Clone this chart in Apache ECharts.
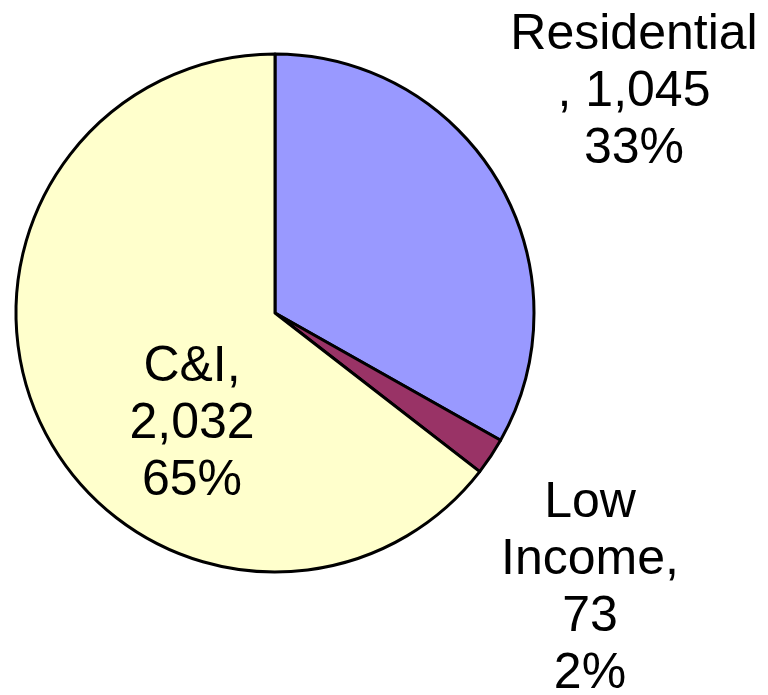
<!DOCTYPE html>
<html>
<head>
<meta charset="utf-8">
<script src="https://cdn.jsdelivr.net/npm/echarts@6/dist/echarts.min.js"></script>
<style>
html,body{margin:0;padding:0;background:#fff;}
#chart{width:768px;height:695px;}
</style>
</head>
<body>
<div id="chart"></div>
<script>
var categories = ["Residential", "Low Income", "C&I"];
var values = [1045, 73, 2032];
var colors = ["#9999FF", "#993366", "#FFFFCC"];
// how each label text is broken into lines (layout only)
var labelTemplates = ["{name}\n, {value}\n{pct}%", "Low\nIncome,\n{value}\n{pct}%", "{name},\n{value}\n{pct}%"];
// label anchor positions (layout only)
var labelPos = [[634, 92], [590, 589], [192, 424]];

function fmt(n){ return n.toString().replace(/\B(?=(\d{3})+(?!\d))/g, ","); }

var chart = echarts.init(document.getElementById('chart'), null, {renderer:'canvas'});
chart.setOption({
  animation: false,
  backgroundColor: '#ffffff',
  series: [{
    type: 'pie',
    center: [275, 313],
    radius: [0, 259],
    startAngle: 90,
    clockwise: true,
    avoidLabelOverlap: false,
    data: categories.map(function(c, i){
      return { name: c, value: values[i], itemStyle: { color: colors[i] } };
    }),
    itemStyle: { borderColor: '#000', borderWidth: 3 },
    label: {
      show: true,
      position: 'outside',
      color: '#000',
      fontFamily: 'Liberation Sans, Arial, sans-serif',
      fontSize: 50,
      lineHeight: 57,
      align: 'center',
      formatter: function(p){
        return labelTemplates[p.dataIndex]
          .replace('{name}', p.name)
          .replace('{value}', fmt(p.value))
          .replace('{pct}', Math.round(p.percent));
      }
    },
    percentPrecision: 0,
    labelLine: { show: false },
    labelLayout: function(params){
      var p = labelPos[params.dataIndex];
      return { x: p[0], y: p[1], align: 'center', verticalAlign: 'middle', hideOverlap: false };
    },
    emphasis: { disabled: true }
  }]
});
</script>
</body>
</html>
